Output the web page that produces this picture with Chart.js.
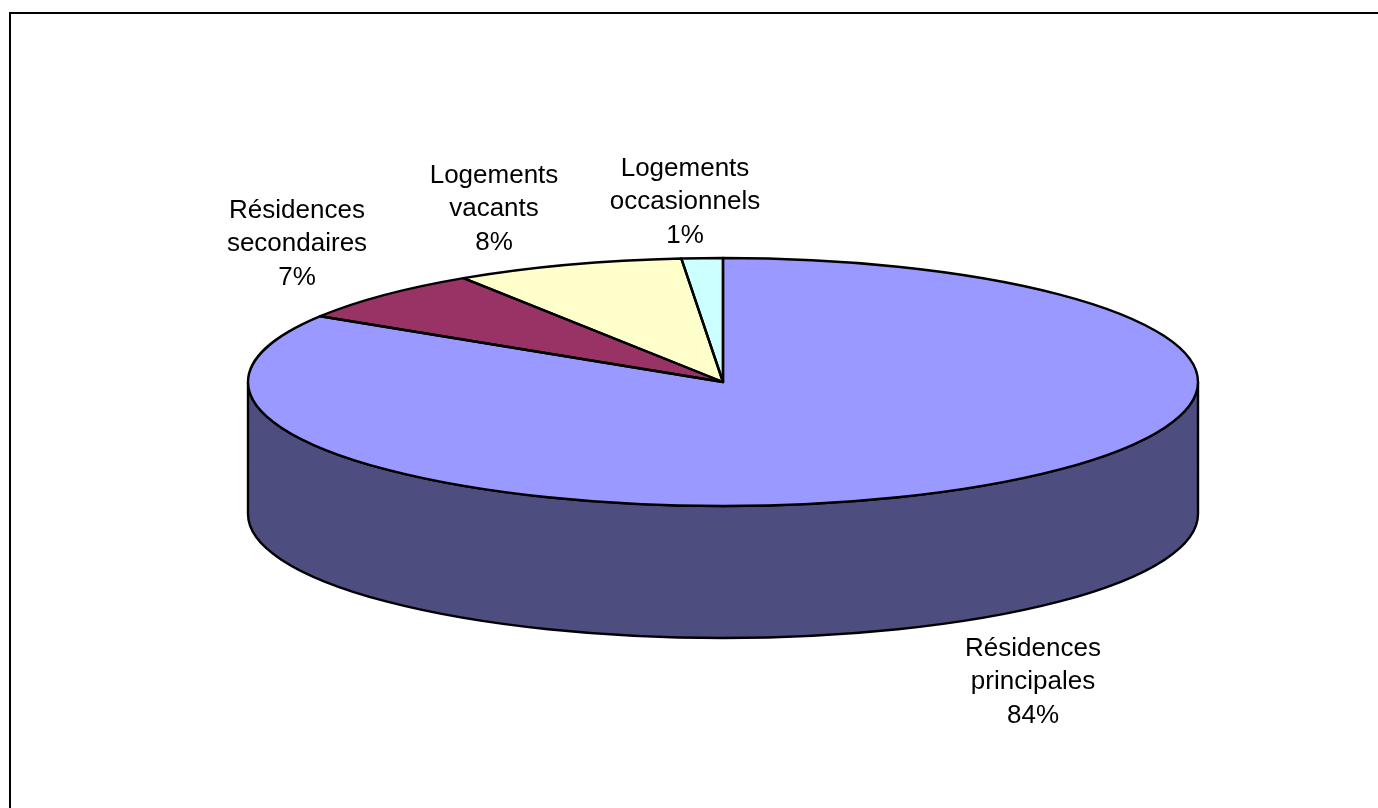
<!DOCTYPE html>
<html lang="fr">
<head>
  <meta charset="UTF-8">
  <title>Logements</title>
  <script src="https://cdn.jsdelivr.net/npm/chart.js"></script>
  <style>
    html, body { margin: 0; background: #fff; overflow: hidden; }
    #wrap { position: relative; width: 1378px; height: 808px; }
  </style>
</head>
<body>
  <div id="wrap"><canvas id="pie" width="1378" height="808"></canvas></div>
  <script>
    // clockwise from 12 o'clock
    const categories = ['Résidences principales', 'Résidences secondaires', 'Logements vacants', 'Logements occasionnels'];
    const values = [83.9, 6.9, 7.8, 1.4];
    const shownPercent = ['84%', '7%', '8%', '1%'];
    const colors = ['#9999FF', '#993366', '#FFFFCC', '#CCFFFF'];
    const sideColors = ['#4D4D80', '#4D1A33', '#808066', '#668080'];
    const labelLines = [
      ['Résidences', 'principales'],
      ['Résidences', 'secondaires'],
      ['Logements', 'vacants'],
      ['Logements', 'occasionnels']
    ];
    // x centre and middle-line baseline of each label block
    const labelX = [1033, 297, 494, 685];
    const labelY = [689, 251, 216, 209];

    const squash = 124 / 475;   // tilt of the pie
    const depth = 132;          // height of the side wall
    const edge = 2.4;           // outline width

    function sliceOutline(ctx, arc) {
      ctx.beginPath();
      ctx.moveTo(arc.x, arc.y);
      ctx.ellipse(arc.x, arc.y, arc.outerRadius, arc.outerRadius * squash, 0, arc.startAngle, arc.endAngle);
      ctx.closePath();
    }

    const tiltPlugin = {
      id: 'tilt',
      beforeDatasetsDraw(chart) {
        const ctx = chart.ctx;
        const arcs = chart.getDatasetMeta(0).data;
        // side wall, only the front half of the ellipse shows
        arcs.forEach((arc, i) => {
          const a = Math.max(arc.startAngle, 0);
          const b = Math.min(arc.endAngle, Math.PI);
          if (a >= b) return;
          const rx = arc.outerRadius, ry = rx * squash;
          ctx.save();
          ctx.beginPath();
          ctx.ellipse(arc.x, arc.y, rx, ry, 0, a, b);
          ctx.ellipse(arc.x, arc.y + depth, rx, ry, 0, b, a, true);
          ctx.closePath();
          ctx.fillStyle = sideColors[i];
          ctx.strokeStyle = '#000';
          ctx.lineWidth = edge;
          ctx.fill();
          ctx.stroke();
          ctx.restore();
        });
        // squash the top face
        const first = arcs[0];
        ctx.save();
        ctx.translate(first.x, first.y);
        ctx.scale(1, squash);
        ctx.translate(-first.x, -first.y);
      },
      afterDatasetsDraw(chart) {
        const ctx = chart.ctx;
        ctx.restore();
        ctx.save();
        ctx.strokeStyle = '#000';
        ctx.lineWidth = edge;
        ctx.lineJoin = 'round';
        chart.getDatasetMeta(0).data.forEach(arc => {
          sliceOutline(ctx, arc);
          ctx.stroke();
        });
        ctx.restore();
      },
      afterDraw(chart) {
        const ctx = chart.ctx;
        ctx.save();
        // frame: top and left only
        ctx.strokeStyle = '#000';
        ctx.lineWidth = 2;
        ctx.beginPath();
        ctx.moveTo(10, 808);
        ctx.lineTo(10, 13);
        ctx.lineTo(1378, 13);
        ctx.stroke();
        // data labels
        ctx.fillStyle = '#000';
        ctx.font = '26px "Liberation Sans"';
        ctx.textAlign = 'center';
        ctx.textBaseline = 'alphabetic';
        categories.forEach((c, i) => {
          const lines = labelLines[i].concat(shownPercent[i]);
          lines.forEach((t, j) => ctx.fillText(t, labelX[i], labelY[i] + (j - 1) * 33.5));
        });
        ctx.restore();
      }
    };

    new Chart(document.getElementById('pie'), {
      type: 'pie',
      data: {
        labels: categories,
        datasets: [{
          data: values,
          backgroundColor: colors,
          borderWidth: 0,
          hoverOffset: 0
        }]
      },
      options: {
        responsive: false,
        animation: false,
        radius: 475,
        layout: { padding: { left: 68, right: 0, top: 0, bottom: 44 } },
        plugins: { legend: { display: false }, tooltip: { enabled: false } }
      },
      plugins: [tiltPlugin]
    });
  </script>
</body>
</html>
